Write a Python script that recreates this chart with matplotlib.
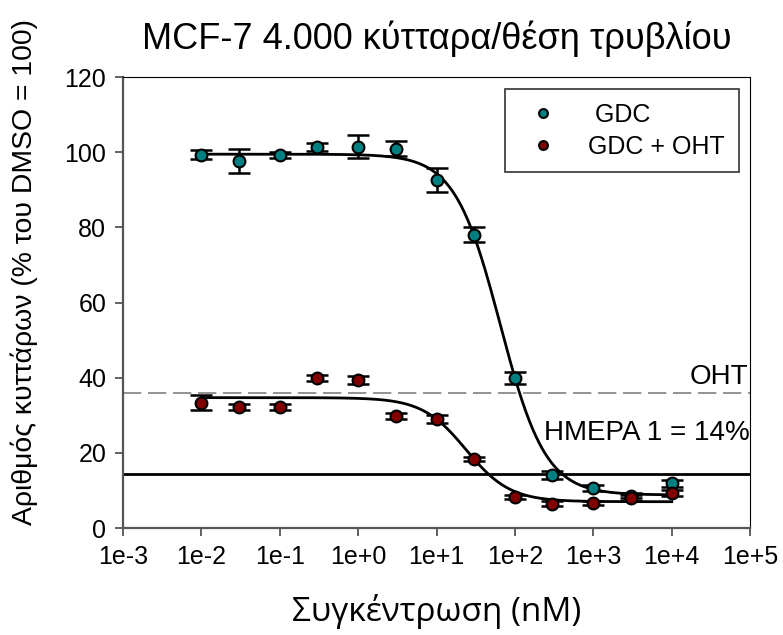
import numpy as np
import matplotlib
matplotlib.use("Agg")
import matplotlib.pyplot as plt

plt.rcParams['font.family'] = ['Liberation Sans', 'DejaVu Sans']

# concentrations (nM)
conc_gdc = [0.01, 0.03, 0.1, 0.3, 1, 3, 10, 30, 100, 300, 1000, 3000, 10000]
gdc_mean = [99.3, 97.6, 99.4, 101.4, 101.5, 101.0, 92.5, 78.0, 39.9, 14.1, 10.7, 8.6, 11.9]
gdc_err = [1.2, 3.2, 0.8, 1.0, 3.0, 2.0, 3.2, 2.0, 1.5, 1.0, 0.8, 0.6, 1.0]

conc_oht = [0.01, 0.03, 0.1, 0.3, 1, 3, 10, 30, 100, 300, 1000, 3000, 10000]
oht_mean = [33.3, 32.3, 32.2, 39.9, 39.4, 29.9, 29.0, 18.4, 8.3, 6.5, 6.6, 7.9, 9.3]
oht_err = [2.0, 0.8, 0.8, 0.8, 1.0, 0.8, 1.0, 0.6, 0.6, 0.6, 0.6, 0.8, 0.8]

# four-parameter logistic fits: top, bottom, ic50 (nM), hill
fit_gdc = (99.5, 8.8, 65.0, 1.5)
fit_oht = (34.7, 7.0, 23.8, 1.55)

oht_level = 35.8     # OHT alone
day1_level = 14.3    # day 1 baseline


def logistic(x, top, bottom, ic50, hill):
    return bottom + (top - bottom) / (1 + (x / ic50) ** hill)


fig = plt.figure(figsize=(7.83, 6.35), dpi=100)
ax = fig.add_axes([0.157, 0.1685, 0.801, 0.71])

ax.axhline(oht_level, color='#808080', lw=1.2, ls=(0, (11, 4)), zorder=1)
ax.axhline(day1_level, color='black', lw=2, zorder=1)

xs = np.logspace(-2, 4, 400)
ax.plot(xs, logistic(xs, *fit_gdc), color='black', lw=2, zorder=2)
ax.plot(xs, logistic(xs, *fit_oht), color='black', lw=2, zorder=2)

ax.errorbar(conc_gdc, gdc_mean, yerr=gdc_err, fmt='none', ecolor='black',
            elinewidth=1.8, capsize=8, capthick=1.8, zorder=3)
ax.errorbar(conc_oht, oht_mean, yerr=oht_err, fmt='none', ecolor='black',
            elinewidth=1.8, capsize=8, capthick=1.8, zorder=3)
ax.plot(conc_gdc, gdc_mean, 'o', color='#008080', mec='black', mew=1.5, ms=8.5,
        label=' GDC', zorder=4)
ax.plot(conc_oht, oht_mean, 'o', color='#800000', mec='black', mew=1.5, ms=8.5,
        label='GDC + OHT', zorder=4)

ax.set_xscale('log')
ax.set_xlim(1e-3, 1e5)
ax.set_ylim(0, 120)
ticks = [1e-3, 1e-2, 1e-1, 1e0, 1e1, 1e2, 1e3, 1e4, 1e5]
ax.set_xticks(ticks)
ax.set_xticklabels(['1e-3', '1e-2', '1e-1', '1e+0', '1e+1', '1e+2', '1e+3', '1e+4', '1e+5'])
ax.minorticks_off()
ax.set_yticks(range(0, 121, 20))
ax.tick_params(labelsize=18, direction='out', length=6, width=1.3, color='#555555', pad=6)

for side in ['left', 'bottom']:
    ax.spines[side].set_color('#555555')
    ax.spines[side].set_linewidth(1.6)
for side in ['top', 'right']:
    ax.spines[side].set_color('black')
    ax.spines[side].set_linewidth(0.8)

ax.text(0.997, oht_level + 2.6, 'OHT', transform=ax.get_yaxis_transform(),
        ha='right', va='baseline', fontsize=20)
ax.text(0.999, 25.3, 'ΗΜΕΡΑ 1 = 14%', transform=ax.get_yaxis_transform(),
        ha='right', va='center', fontsize=20)

leg = ax.legend(loc='upper right', bbox_to_anchor=(0.982, 0.973), borderaxespad=0,
                fontsize=18, frameon=True, fancybox=False, edgecolor='black',
                handletextpad=0.8, borderpad=0.55, labelspacing=0.3, markerscale=0.75)
leg.get_frame().set_linewidth(1.2)

ax.set_xlabel('Συγκέντρωση (nM)', fontsize=24, labelpad=18,
              family=['Open Sans', 'Liberation Sans'])
ax.set_ylabel('Αριθμός κυττάρων (% του DMSO = 100)', fontsize=20.4)
ax.yaxis.set_label_coords(-0.136, 0.568)
ax.set_title('MCF-7 4.000 κύτταρα/θέση τρυβλίου', fontsize=26, pad=20)

fig.savefig('out.png', dpi=100)
